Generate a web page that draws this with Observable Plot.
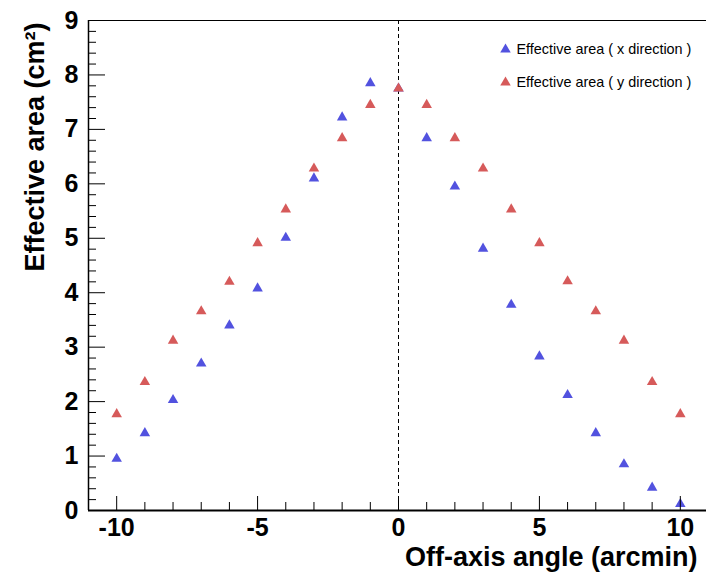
<!DOCTYPE html>
<html>
<head>
<meta charset="utf-8">
<script src="https://cdn.jsdelivr.net/npm/d3@7"></script>
<script src="https://cdn.jsdelivr.net/npm/@observablehq/plot@0.6"></script>
<style>
  html, body { margin: 0; padding: 0; background: #fff; overflow: hidden; }
  svg { font-family: "Liberation Sans", Arial, Helvetica, sans-serif; display: block; }
</style>
</head>
<body>
<div id="chart"></div>
<script>
const angles = [-10, -9, -8, -7, -6, -5, -4, -3, -2, -1, 0, 1, 2, 3, 4, 5, 6, 7, 8, 9, 10];
const effAreaX = [0.95, 1.42, 2.03, 2.70, 3.40, 4.08, 5.01, 6.10, 7.22, 7.85, 7.75, 6.84, 5.95, 4.81, 3.78, 2.83, 2.12, 1.42, 0.85, 0.42, 0.12];
const effAreaY = [1.77, 2.36, 3.12, 3.66, 4.20, 4.91, 5.53, 6.28, 6.84, 7.45, 7.75, 7.45, 6.84, 6.28, 5.53, 4.91, 4.21, 3.66, 3.12, 2.36, 1.77];
const seriesNames = ["Effective area ( x direction )", "Effective area ( y direction )"];
const seriesColors = ["#5252df", "#d65a5a"];
const xMajorTicks = [-10, -5, 0, 5, 10];
const yMajorTicks = [0, 1, 2, 3, 4, 5, 6, 7, 8, 9];

const xMinorTicks = d3.range(-10, 11).filter(v => !xMajorTicks.includes(v));
const yMinorTicks = d3.range(0, 45).map(i => i / 5).filter(v => !Number.isInteger(v));

const W = 706, H = 575;
const mL = 88, mR = -2, mT = 20, mB = 65;

const dataX = angles.map((a, i) => ({angle: a, area: effAreaX[i]}));
const dataY = angles.map((a, i) => ({angle: a, area: effAreaY[i]}));
const fmt = d => String(d);

const chart = Plot.plot({
  width: W, height: H,
  marginLeft: mL, marginRight: mR, marginTop: mT, marginBottom: mB,
  style: {color: "#000", background: "#fff"},
  x: {domain: [-11, 11]},
  y: {domain: [0, 9]},
  marks: [
    Plot.frame(),
    Plot.ruleY([0], {strokeWidth: 2}),
    Plot.ruleX([-11], {strokeWidth: 1.5}),
    Plot.axisY(yMajorTicks, {tickSize: 0, tickPadding: 10, tickFormat: fmt, fontSize: 25, fontWeight: "bold", label: null}),
    Plot.axisX(xMajorTicks, {tickSize: 0, tickPadding: 8, tickFormat: fmt, fontSize: 25, fontWeight: "bold", label: null}),
    Plot.ruleX([0], {strokeWidth: 1, strokeDasharray: "4,3"}),
    Plot.dot(dataX, {x: "angle", y: "area", symbol: "triangle", r: 3.9, fill: seriesColors[0]}),
    Plot.dot(dataY, {x: "angle", y: "area", symbol: "triangle", r: 3.9, fill: seriesColors[1]}),
    Plot.dot([seriesNames[0]], {frameAnchor: "top-left", dx: 417, dy: 29, symbol: "triangle", r: 3.9, fill: seriesColors[0]}),
    Plot.dot([seriesNames[1]], {frameAnchor: "top-left", dx: 417, dy: 62, symbol: "triangle", r: 3.9, fill: seriesColors[1]}),
    Plot.text([seriesNames[0]], {frameAnchor: "top-left", dx: 428, dy: 29, text: d => d, textAnchor: "start", lineAnchor: "middle", fontSize: 14.4}),
    Plot.text([seriesNames[1]], {frameAnchor: "top-left", dx: 428, dy: 62, text: d => d, textAnchor: "start", lineAnchor: "middle", fontSize: 14.4}),
    Plot.text(["Off-axis angle (arcmin)"], {frameAnchor: "bottom-right", dx: -11, dy: 55, text: d => d, textAnchor: "end", lineAnchor: "bottom", fontSize: 27, fontWeight: "bold"}),
    Plot.text(["Effective area (cm²)"], {frameAnchor: "top-left", dx: -45, dy: 2, rotate: -90, text: d => d, textAnchor: "end", lineAnchor: "bottom", fontSize: 27, fontWeight: "bold"}),
    // inward tick marks, drawn last
    Plot.axisY(yMajorTicks, {tickSize: -17, text: null, label: null}),
    Plot.axisY(yMinorTicks, {tickSize: -8, text: null, label: null}),
    Plot.axisX(xMajorTicks, {tickSize: -14, text: null, label: null}),
    Plot.axisX(xMinorTicks, {tickSize: -8, text: null, label: null})
  ]
});
document.getElementById("chart").appendChild(chart);
</script>
</body>
</html>
